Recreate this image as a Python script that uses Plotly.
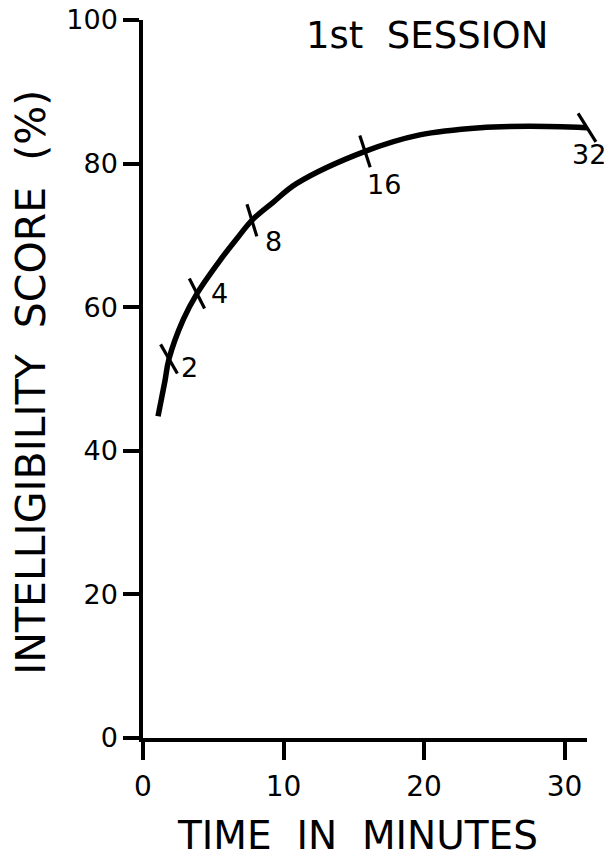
import plotly.graph_objects as go

# Curve (time in minutes, intelligibility score %)
curve_time = [1.07, 1.56, 1.85, 2.87, 3.84, 5.47, 6.66, 7.75, 9.26, 10.92, 15.8, 19.7, 24.0, 27.5, 31.6]
curve_score = [44.8, 49.7, 52.8, 58.3, 61.9, 66.5, 69.5, 72.1, 74.6, 77.2, 81.7, 84.0, 85.0, 85.2, 85.0]

# Labelled cross-marks on the curve
mark_labels = ["2", "4", "8", "16", "32"]
mark_time = [1.85, 3.84, 7.75, 15.8, 31.6]
mark_score = [52.8, 61.9, 72.1, 81.7, 85.0]

x_ticks = [0, 10, 20, 30]
y_ticks = [0, 20, 40, 60, 80, 100]

# styling (offsets in px and mark angles)
mark_angles = [-30, -27, -17, -18, -32]
label_dx = [21, 23, 22, 19, 2]
label_dy = [-9, 0, -21, -33, -27]

FONT = "DejaVu Sans"

fig = go.Figure()
fig.add_trace(go.Scatter(
    x=curve_time, y=curve_score, mode="lines",
    line=dict(color="black", width=5.5, shape="spline", smoothing=1.0),
    hoverinfo="skip", showlegend=False,
))
fig.add_trace(go.Scatter(
    x=mark_time, y=mark_score, mode="markers",
    marker=dict(symbol="line-ns", size=24, angle=mark_angles,
                line=dict(color="black", width=3.2)),
    cliponaxis=False, showlegend=False,
))

for lab, tx, sy, dx, dy in zip(mark_labels, mark_time, mark_score, label_dx, label_dy):
    fig.add_annotation(x=tx, y=sy, text=lab, showarrow=False, xref="x", yref="y",
                       xshift=dx, yshift=dy, xanchor="center", yanchor="middle",
                       font=dict(family=FONT, size=27, color="black"))

fig.add_annotation(x=20.2, y=97.8, xref="x", yref="y", text="1st  SESSION",
                   showarrow=False, xanchor="center", yanchor="middle",
                   font=dict(family=FONT, size=37, color="black"))

fig.add_annotation(x=0.484, y=-0.136, xref="paper", yref="paper", text="TIME  IN  MINUTES",
                   showarrow=False, xanchor="center", yanchor="middle",
                   font=dict(family=FONT, size=39, color="black"))

fig.add_annotation(x=-0.254, y=0.495, xref="paper", yref="paper",
                   text="INTELLIGIBILITY  SCORE  (%)", textangle=-90,
                   showarrow=False, xanchor="center", yanchor="middle",
                   font=dict(family=FONT, size=41, color="black"))

fig.update_layout(
    width=604, height=852,
    margin=dict(l=135, r=25, t=12, b=122, autoexpand=False),
    plot_bgcolor="white", paper_bgcolor="white",
    showlegend=False,
)
fig.update_xaxes(
    range=[0, 31.6], tickvals=x_ticks, ticktext=[str(v) for v in x_ticks],
    showgrid=False, zeroline=False, showline=True, linecolor="black", linewidth=3.5,
    ticks="outside", ticklen=18, tickwidth=3.5, tickcolor="black", automargin=False,
    tickfont=dict(family=FONT, size=28, color="black"), ticklabelstandoff=3,
    ticklabeloverflow="allow",
)
fig.update_yaxes(
    range=[0, 100], tickvals=y_ticks, ticktext=[str(v) for v in y_ticks],
    showgrid=False, zeroline=False, showline=True, linecolor="black", linewidth=3.5,
    ticks="outside", ticklen=16, tickwidth=3.5, tickcolor="black", automargin=False,
    tickfont=dict(family=FONT, size=27, color="black"), ticklabelstandoff=0,
    ticklabeloverflow="allow",
)

fig.write_html("out.html")
